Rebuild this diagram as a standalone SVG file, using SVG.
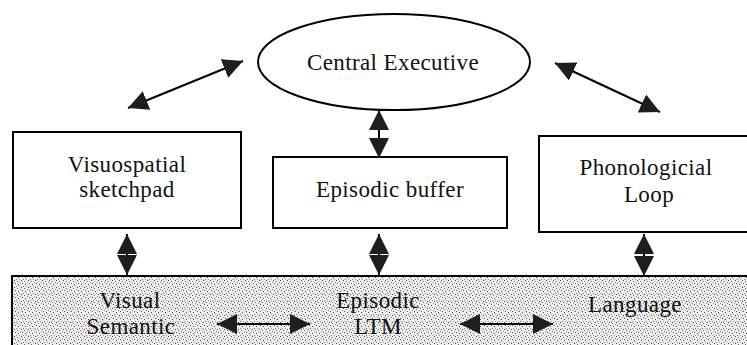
<svg xmlns="http://www.w3.org/2000/svg" width="747" height="345" viewBox="0 0 747 345">
<defs>
<pattern id="stip" width="7" height="7" patternUnits="userSpaceOnUse">
<rect width="7" height="7" fill="#eeeeee"/>
<rect x="0" y="0" width="1" height="1" fill="#444"/>
<rect x="3" y="1" width="1" height="1" fill="#666"/>
<rect x="6" y="2" width="1" height="1" fill="#888"/>
<rect x="1" y="3" width="1" height="1" fill="#555"/>
<rect x="4" y="4" width="1" height="1" fill="#444"/>
<rect x="2" y="6" width="1" height="1" fill="#777"/>
<rect x="5" y="6" width="1" height="1" fill="#999"/>
</pattern>
<marker id="ah" viewBox="0 0 20 20" refX="20" refY="10" markerWidth="20" markerHeight="20" markerUnits="userSpaceOnUse" orient="auto-start-reverse">
<path d="M0,0 L20,10 L0,20 Z" fill="#1e1e1e"/>
</marker>
</defs>
<style>
.box{fill:#fff;stroke:#000;stroke-width:2}
.t{font-family:"Liberation Serif","Times New Roman",serif;font-size:23px;letter-spacing:0.4px;fill:#111;text-anchor:middle}
.c{stroke:#000;stroke-width:2;fill:none;marker-start:url(#ah);marker-end:url(#ah)}
</style>
<rect width="747" height="345" fill="#fff"/>
<g id="ltm">
<rect x="12" y="276" width="745" height="80" fill="url(#stip)" stroke="#000" stroke-width="2"/>
<text class="t" x="130" y="308">Visual</text>
<text class="t" x="131" y="334">Semantic</text>
<text class="t" x="378" y="308">Episodic</text>
<text class="t" x="378" y="334">LTM</text>
<text class="t" x="635" y="312">Language</text>
</g>
<g id="central-executive">
<ellipse cx="394" cy="62" rx="136" ry="48" fill="#fff" stroke="#000" stroke-width="2"/>
<text class="t" x="393" y="70">Central Executive</text>
</g>
<g id="visuospatial">
<rect class="box" x="13" y="132" width="228" height="96"/>
<text class="t" x="127" y="172">Visuospatial</text>
<text class="t" x="127" y="197">sketchpad</text>
</g>
<g id="episodic-buffer">
<rect class="box" x="273" y="157" width="234" height="71"/>
<text class="t" x="390" y="197">Episodic buffer</text>
</g>
<g id="phonological">
<rect class="box" x="539" y="136" width="220" height="96"/>
<text class="t" x="646" y="175">Phonologicial</text>
<text class="t" x="649" y="202">Loop</text>
</g>
<g id="connectors">
<line class="c" x1="128" y1="108" x2="243" y2="61"/>
<line class="c" x1="555" y1="63" x2="660" y2="112"/>
<line class="c" x1="379" y1="110" x2="379" y2="158"/>
<line class="c" x1="127" y1="234" x2="127" y2="275"/>
<line class="c" x1="379" y1="234" x2="379" y2="275"/>
<line class="c" x1="644" y1="234" x2="644" y2="276"/>
<line class="c" x1="217" y1="324" x2="310" y2="324"/>
<line class="c" x1="460" y1="324" x2="553" y2="324"/>
</g>
</svg>
